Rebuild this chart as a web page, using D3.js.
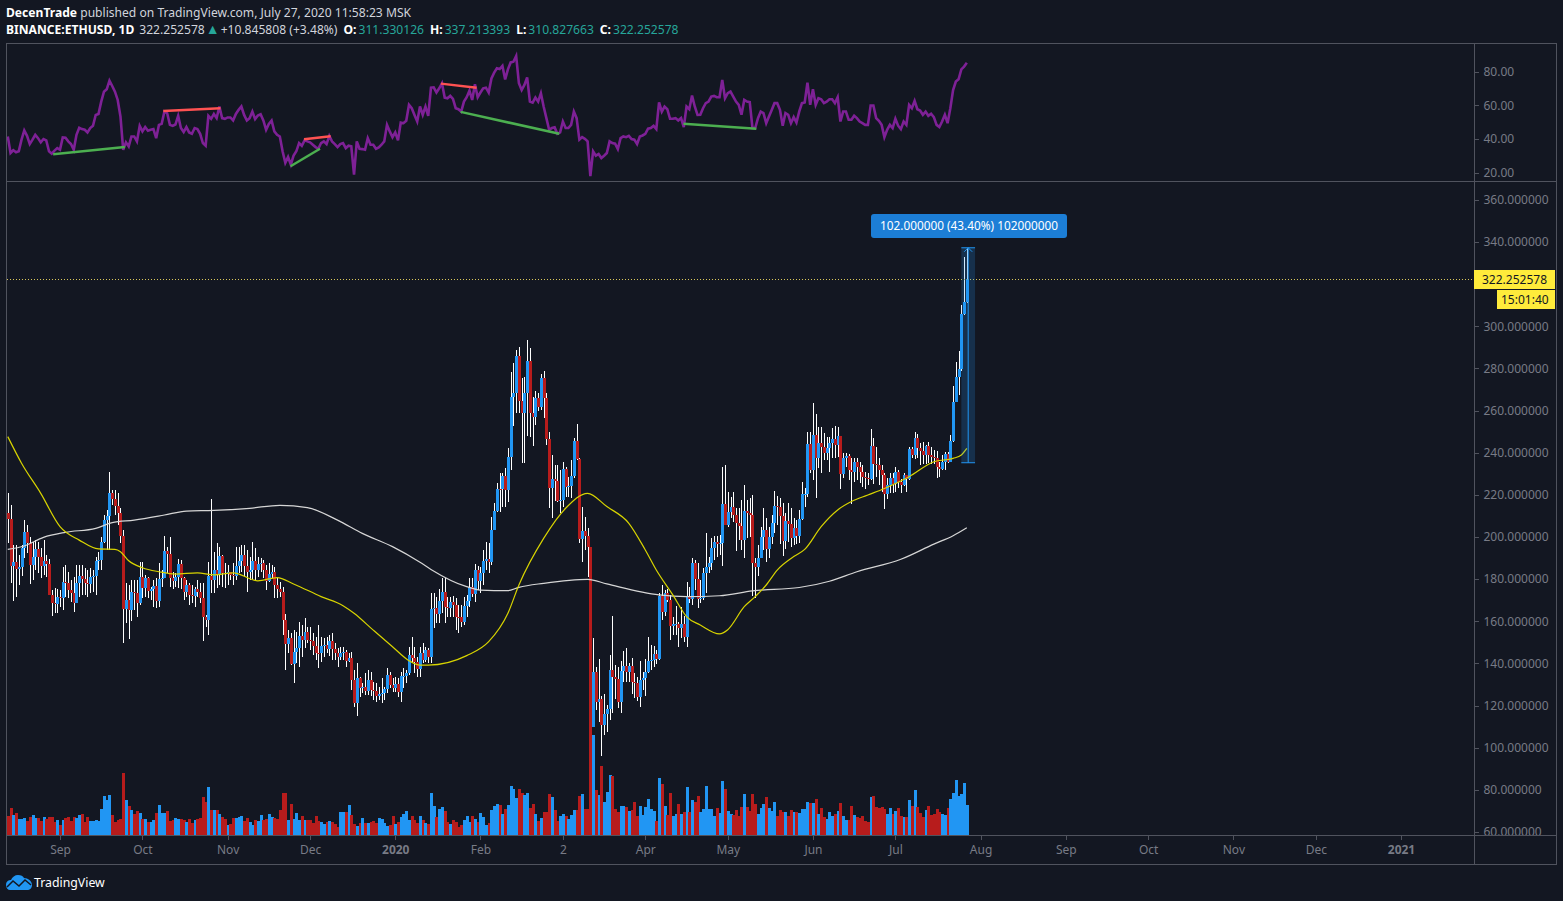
<html>
<head>
<meta charset="utf-8">
<script src="https://d3js.org/d3.v7.min.js" charset="utf-8"></script>
<style>
    html, body { margin: 0; padding: 0; background: #131722; overflow: hidden; }
    text { font-family: "Noto Sans", sans-serif; }
</style>
</head>
<body>
<script>
// Daily ETHUSD bars, first bar is 2019-08-13, one value per day
var firstOpen = 211.2;
var closes = [
    208.3,186.2,188.1,185,185.6,194.7,202.3,197,186.8,190.6,
    194.3,190.6,186.2,188.6,187.2,172.6,168.5,168.2,171.6,171.2,
    178.6,178.3,174.8,173.5,168.8,178,181.5,180,178,177.8,
    180.8,181.6,188.7,189,197.6,208,210,221,217.8,214.7,
    211.2,200.5,166,170.1,165.3,174,173.5,168.8,180.8,176,
    180.5,174.5,175.4,176.7,169.8,180,180.7,193.3,191.9,180.5,
    179.2,180.8,187,180.3,173.9,177.2,172.6,172,175.1,173.9,
    171,162.2,160.6,181.5,179.6,184.3,181.8,191,182.7,182.4,
    183.5,182.1,181.6,186.2,188.7,191.4,186.2,183.4,184.3,188.6,
    184.3,187,187.5,184.3,179.2,182.4,183.5,177.4,175.5,173.9,
    160.6,149.2,151.9,139.7,145.6,147.2,153,151.1,154.9,151.1,
    150.8,148.2,145.1,145,148.2,148.7,147,150.8,146.7,145.1,
    143.2,144.8,145.5,141.3,142.4,132.1,121.3,133.1,128.2,128.6,
    127,132.1,127.4,127,124.5,125.3,125.8,127.7,134.3,129.8,
    128.2,130.2,126.6,134,134,135.3,143.8,142.5,140.8,137.2,
    144.8,141.6,146.4,143.2,165.7,166.1,163.4,169.5,173.9,166.6,
    166.1,169.1,167.6,162.2,161.9,159.6,167.2,169.5,176.1,172.9,
    184.3,179.3,183.1,188.4,189.4,188,203.3,212.5,222.9,222.6,
    228.9,222.3,237.9,266.2,268.1,285.9,264.7,258.7,268.1,283.3,
    258.7,257.1,265.8,261.8,275.4,265.8,246.3,223.2,227.3,226.7,
    217.2,217.5,232.1,223.5,224.2,228.9,245.5,237.1,199.2,202.8,
    200.4,195.1,110,135.9,121.8,122.9,110.8,116,118.2,136.9,
    133.4,132.4,121.8,136.4,138.8,136.1,138.8,131.3,130.8,123.9,
    132.1,132.9,135.9,141.3,141.6,144.4,142.2,172,164.6,173.2,
    170.1,157.7,158.5,158.7,156.6,158.5,152.4,172.1,170.4,187.5,
    179.9,170.4,171.2,182.7,185.6,187.5,194.6,197.6,196.5,197,
    215.6,205.7,212,214,210.4,206.8,205.2,198.6,212.5,211.2,
    210.4,187.5,185.6,189.8,199.8,203.3,194.1,200.1,206.5,214.7,
    214,209.9,198.2,207.6,206.1,199.3,204.4,200.6,208.4,220.2,
    220.5,244.1,231.8,248.4,237.3,244.7,242.8,239.7,242,244.7,
    246.3,243.6,247.9,229.9,237.3,238.4,231.8,231,235.7,233.3,
    231,228.6,228.1,227.3,243.2,234.6,234.1,231.8,229.4,220.4,
    224.6,227.8,225.1,231,226.2,224.6,229.4,227.3,241.6,238.9,
    246.8,242,240.9,238.9,243.2,238.9,238.1,237.3,233.3,232.1,
    235.7,239.2,235.4,245.5,264.2,275.8,279.7,305.7,311.33,322.25
];
var highs = [
    220.7,215.2,196.2,196.2,191.4,196.2,208,205.7,200.1,197.7,
    198.5,197.7,194.6,198.5,191.4,189.4,174.8,175.6,175.1,174.8,
    185.9,186.7,183.5,179.6,181.1,186.7,186.7,186.7,185.1,184.3,
    185.1,184.3,190.6,193,200.1,210.4,212.8,230.8,222.3,222.3,
    220.7,213.6,203.3,178,177.2,179.6,179.6,179.6,188.3,188.3,
    182,181.1,176.4,179.6,180.3,187.5,184.3,200.4,195.4,199.8,
    183.5,182.7,189.4,189,181.1,179.6,178,177.2,176.4,179.6,
    178,178,163,188.3,217.8,193,197,195.4,191.4,187.5,
    186.7,183.1,187.5,195.4,195.4,196.2,196.2,193.8,190.6,197.4,
    194.6,190.6,189.9,189,186.7,187.5,186.7,185.6,180.3,178.8,
    176.4,163.4,155.8,154.3,155.8,155,159.8,158.2,161.4,157.4,
    157.4,154.3,152.7,158.2,152.7,151.9,152.7,153.5,154.3,149.5,
    147.2,148,148,146.4,145.1,145.6,136.9,140,133.7,130.5,
    135.3,136.9,136.1,131.3,130.5,129,132.9,129,137.6,136.1,
    132.9,133.7,132.9,136.1,137.6,136.9,148,152.4,148,143.2,
    148,149.5,148,147.2,173.2,173.2,171.7,175.1,180.4,180.4,
    171.7,171.7,172,170.9,167.7,167.7,171.7,172.5,180.4,180.4,
    187.2,186.2,185.6,193.8,197.4,197,209.3,216.3,225.4,230.2,
    230.2,232.6,242,278.4,282.4,288.7,290,275.3,276,293.5,
    289.5,266.6,269.3,268.1,277.3,278.6,268.1,250,238.9,234.1,
    234.1,231.8,235.7,233.4,228.6,236.5,246.8,253.6,237.5,214.4,
    209.6,204.1,195.1,151.9,138.4,141.9,124.5,125.5,120.2,144,
    162.5,139.2,138.4,141.1,145.9,147.1,140,142.7,135.3,133.7,
    141.1,136.1,142.1,152.3,148.6,148.2,146.3,173.2,177.2,174.8,
    175.1,172.4,162.2,167.4,159.8,166.9,162.5,178.5,176.4,189.9,
    189.1,187.5,179.6,185.1,201.7,190.6,199.3,200.4,200.6,200.9,
    233,234.1,221.5,219.1,221.5,213.6,213.6,217.5,224.7,217.5,
    218.3,219.9,189.8,196,204.9,213.6,208.8,204.9,210.4,221.8,
    219.4,218.3,216,211.2,216,213.6,208.8,208,212.8,226.2,
    223,250,250,263.4,258.3,252,252,249.2,247.6,247.6,
    251.5,252.6,252,247.9,239.7,239.7,239.3,237.3,237.3,237.3,
    235.7,234.1,231,230.2,251,246.8,242.8,237.3,234.1,230.2,
    227.8,230.2,230.2,233,231.8,227.3,230.2,229.4,242.5,242.8,
    250,248.8,244.4,245.2,243.6,245.2,242.5,241.3,240.9,235.7,
    238.9,240.5,240.5,248.4,271.6,283.2,288.3,310,333,337.21
];
var lows = [
    197,178,169.8,171.3,177.2,181.5,189.8,192.2,177.7,179.6,
    184.3,182.7,180.3,181.9,181.1,172.4,162.5,163.7,164.1,166.9,
    165.3,171.6,170.9,169.3,164.5,168.5,171.6,172.4,172.4,171.6,
    173.2,174,172.4,184.3,184.3,197,193.8,193.8,215.2,210.4,
    205.7,197,149.8,159.3,151.4,160.3,165.3,161.8,167.7,170.9,
    171.6,170.9,170.1,166.9,166.1,166.9,176.4,180.3,182.7,176.4,
    175.1,176.4,175.6,175.1,170.1,171.6,167.7,168.5,166.9,171.6,
    168.5,150.8,157.4,153.5,173.2,173.5,175.6,177.2,176.4,175.6,
    177.2,179.6,177.2,179.6,182.7,183.5,181.1,174,179.6,179.6,
    179.6,181.1,183.5,180.3,174.8,178.8,180.3,170.9,170.9,171.6,
    153.5,136.9,144.8,139.2,130.8,140,138.4,143.2,147.2,149.5,
    146.3,144,141.6,138,140.8,143.2,144.8,143.5,141.6,141.6,
    138.4,141.6,141.6,138.4,140.8,127.4,119.4,115.2,124.2,125.8,
    125,125,124.5,122.6,121.8,122.6,121,122.6,125.8,128.2,
    126.6,126.6,123.9,121.8,128.2,130.5,134.5,140,135.3,133.5,
    133.7,140,140.8,140,140,156.6,159,159,163.8,159.3,
    162.2,162.2,161.9,155.9,154.3,157.4,158.2,162.2,166.9,171.7,
    169.3,174.8,173.2,177.2,184.3,182.7,186.7,203.3,212,212,
    214.4,214.4,216.7,231.8,252.6,259,258.7,235.2,235.2,247.9,
    247.6,243.2,253.1,260,260.2,256.3,243.6,213.6,209.2,217.2,
    216.7,211.2,214.4,219.1,219.1,218.3,227.8,236.5,197,188.3,
    193.8,181.2,110,110,117.9,112.3,96,106,107.6,113.1,
    116.3,122.9,118.7,116.3,131.3,131.3,131.3,125.5,123.4,122.1,
    119.4,127.4,124.7,135.3,136.9,138.1,139.7,141.6,160.6,162.5,
    169.3,151.1,153.6,153.5,147.6,151.9,150,148,168.5,167.7,
    174.8,166.1,168.5,170.1,173.2,182.7,184.3,189.1,190.6,191.4,
    186.4,205.7,204.9,208.8,207.2,193.5,198.5,193.8,189.8,199.3,
    200.1,172.1,170.9,181.5,189.8,193.8,188.3,189.8,196.6,201.7,
    205.7,196.6,191.1,194.1,197.8,195.4,196.2,196.6,197,208,
    214.4,219.1,230.2,227,218.6,232.5,230.5,236.5,236.5,231,
    237.3,237.3,238.1,222.8,227.8,233,227,215.6,226.2,227,
    225.4,223.9,222.8,224.6,227,225.1,228.6,224.6,221.5,213.1,
    217.8,220.7,220.7,221.5,223,221,224.2,221.5,227,237.3,
    236.8,237.3,234.1,234.6,234.6,235.2,234.6,234.6,227.8,228.3,
    231.8,231.8,234.9,235.7,245.2,264,267.4,278.9,305.3,310.83
];
var volumes = [
    19,27,20,22,16,16,17,14,18,20,
    17,17,14,18,16,18,18,13,15,10,
    15,17,18,14,18,17,20,21,13,18,
    14,14,15,14,26,39,35,40,20,13,
    15,16,62,35,29,25,21,24,22,16,
    16,13,13,15,22,30,22,22,24,14,
    15,17,16,16,15,13,16,12,15,16,
    17,38,33,48,25,25,25,21,18,16,
    10,11,17,17,18,19,14,17,13,10,
    15,14,20,15,16,21,18,17,16,25,
    42,42,15,31,16,22,15,19,15,15,
    15,12,19,14,13,11,13,14,13,11,
    8,23,23,23,30,20,11,9,12,17,
    12,12,13,14,12,17,16,12,9,10,
    19,11,13,18,21,24,15,19,15,12,
    19,15,12,11,42,29,18,26,28,24,
    13,11,15,13,8,10,15,19,13,19,
    16,13,22,18,10,12,25,29,31,30,
    21,26,30,49,46,37,46,42,40,42,
    27,31,21,14,17,23,23,41,38,25,
    14,19,21,19,16,20,25,25,39,41,
    26,26,112,100,45,40,69,33,43,60,
    59,26,23,29,29,28,24,25,33,19,
    29,20,28,36,26,24,14,57,51,29,
    20,42,19,21,31,21,23,48,23,35,
    33,39,23,26,49,26,26,19,27,22,
    54,46,24,21,20,25,19,28,41,28,
    24,41,31,21,27,31,38,27,24,33,
    19,25,23,23,19,25,23,23,22,26,
    26,33,32,32,36,21,27,18,16,23,
    19,21,24,32,19,15,15,29,20,18,
    17,19,14,13,38,39,28,27,28,26,
    21,27,21,24,27,19,18,18,35,29,
    45,28,22,18,25,29,20,21,26,23,
    21,20,27,36,42,55,39,41,52,30
];
var rsiValues = [
    41.4,31.6,33.2,32,32.6,39.5,45,41.8,36.9,39.5,
    42.4,40.4,37.9,39.9,39.1,32.6,31.2,33,34.5,33.5,
    40.8,40.6,38.5,36.9,33.5,42.4,46.6,45.8,45.4,43.8,
    46.4,47.7,54.2,54.8,62.1,68,69.4,74.6,71.4,68,
    63.1,53.3,33.5,37.9,35.5,41.4,41.4,38.5,47.7,44.4,
    47,44.8,45.4,45.8,40.4,48.3,48.9,56.2,55.2,48.3,
    47.7,48.5,53.7,46.4,44,47,43.8,43,46.4,45.8,
    43,37.5,35.9,53.7,51.9,54.8,52.3,59.2,52.3,51.9,
    52.7,52.7,50.9,54.8,57.2,59.2,54.2,50.9,52.3,56.2,
    51.7,53.9,54.6,50.9,45.4,48.9,50.9,44.4,42.4,41.4,
    32.6,25.7,29.2,24.7,30,32.6,37.5,35.9,39.1,38.5,
    37.9,36.5,35.1,34.1,37.5,38.5,36.9,41.8,38.5,36.9,
    35.1,36.9,37.5,34.5,35.9,35.5,18.7,38.5,34.1,33.9,
    33.5,40.4,36.5,36.5,34.1,34.9,36.5,38.5,48.3,44.4,
    41,43.8,39.1,49.7,49.3,50.7,60.2,58.2,54.2,50.3,
    59.2,54.2,59.2,53.7,70.4,70.6,67.5,70,73,64.5,
    64.1,65.5,63.7,58.2,57.6,56.2,62.1,64.7,68.6,63.1,
    72.4,64.7,67.5,70,70.4,67.5,75.9,79.3,81.9,81.5,
    83.4,75.3,81.3,85.4,85.8,89.2,73,69,72,76.5,
    62.1,61.5,64.5,62.1,67.1,59.2,52.3,45.4,46.4,46.8,
    43,43.8,50.3,46.4,46.4,48.3,56.2,52.3,39.5,41,
    40,38.5,17.8,32.6,30,31,28.6,30,31.6,38.5,
    37.5,37.1,33.9,40.4,41.4,41,41.8,39.9,39.5,36.9,
    41.4,42,43,46,46.4,47.7,45.8,61.7,56.2,59.2,
    57.6,51.9,51.9,52.3,50.9,52.3,47,59.2,57.6,65.7,
    59.2,54.2,54.3,58.2,61.2,62.1,65.1,65.5,64.7,64.7,
    75,64.1,67.1,68.1,65.1,62.1,60.2,54.3,63.1,62.1,
    61.8,46.4,46.4,52.3,56.2,55.3,49.3,53.3,57.2,61.2,
    61.2,57.2,47.8,55.3,54.3,49.3,52.9,49.7,56.2,61.2,
    61.6,73.4,60.2,69.4,60.2,64.1,63.5,61.2,62.1,63.5,
    63.5,61.2,64.7,50.3,56.2,56.2,51.3,51.3,53.7,52.3,
    50.3,49.3,48.3,48.3,59.8,59.8,52.3,50.7,48.3,41,
    45.4,48.3,46.4,51.9,47.8,45.8,50.3,48.3,60.2,58.2,
    62.5,57.6,56.8,54.3,56.2,53.7,54.9,52.9,48.3,47,
    50.3,54.3,49.3,58.2,69,74,75.4,81.3,82.9,85.2
];

var yellowMaBars = [0,5,12,19,26,33,39,41,44,49,55,61,69,75,82,91,98,104,114,122,126,133,140,146,150,153,167,175,182,186,195,203,211,218,226,232,236,242,247,252,259,262,268,272,276,280,286,290,296,302,307,313,319,328,337,344,347,349];
var yellowMaValues = [247.6,235,220.7,204.9,198.5,194.3,194.1,193,188.7,185.4,183.5,182.4,183,182,183,179.2,180.7,177.7,171.7,167.4,163.8,155.8,147.9,141.3,139.2,139.2,143.7,150.3,163.8,177.2,199.3,213.6,220.7,214.4,206.5,193.8,184.3,172.5,162.2,158.2,154,156,166.9,171.7,177.2,184.3,190.7,194.1,204.9,212.8,216.8,219.9,223,228.6,235.7,237.3,238.9,242];
var whiteMaBars = [0,6,13,21,32,38,46,57,65,75,88,99,109,120,129,140,150,154,167,172,182,186,195,211,218,237,247,259,271,288,299,309,325,337,344,349];
var whiteMaValues = [194.1,195.7,199.8,202.2,204.1,206.8,208,210.4,212.3,212.6,213.6,215,213.9,208,201.7,195.4,188,184.6,176.4,174.8,174.5,176.1,178,179.9,177.7,172.5,171.7,172.1,174.4,176,179,183.5,189.4,196.6,200.6,204.4];

// trend lines drawn on the RSI pane: [bar, rsi, bar, rsi]
var greenRsiLines = [[16.5,30.8,42.6,35.1],[102.9,23.7,113.6,34.1],[164.8,56,200.7,43],[245.9,48.9,272.4,46]];
var redRsiLines = [[56.6,56.6,77.4,58.2],[107.8,39.8,117.5,41.6],[157.6,72.8,170.6,70.4]];

// 320 sits under the last price label in the reference, so it is left out
var priceTicks = [60,80,100,120,140,160,180,200,220,240,260,280,300,340,360];
var rsiTicks = [20,40,60,80];
var timeTickDates = ["2019-09-01","2019-10-01","2019-11-01","2019-12-01","2020-01-01","2020-02-01","2020-03-02","2020-04-01","2020-05-01","2020-06-01","2020-07-01","2020-08-01","2020-09-01","2020-10-01","2020-11-01","2020-12-01","2021-01-01"];
var timeTickLabels = ["Sep","Oct","Nov","Dec","2020","Feb","2","Apr","May","Jun","Jul","Aug","Sep","Oct","Nov","Dec","2021"];
var boldLabels = ["2020","2021"];

var lastPrice = 322.252578;
var measureHigh = 337.213393;
var measureLow = 235.213393;
var measureStart = 347;
var measureEnd = 352;

var chartWidth = 1563;
var chartHeight = 901;
var background = "#131722";
var borderColor = "#50535e";
var axisTextColor = "#787b86";
var upColor = "#2196f3";
var downColor = "#b71c1c";
var left = 6.5, right = 1474.5, outerRight = 1556.5;
var top_ = 43.5, paneSplit = 181.5, axisY = 835.5, bottom = 864.5;

var svg = d3.select("body").append("svg")
    .attr("width", chartWidth)
    .attr("height", chartHeight)
    .style("display", "block");

svg.append("rect").attr("width", "100%").attr("height", "100%").attr("fill", background);

var defs = svg.append("defs");
defs.append("clipPath").attr("id", "plotClip").append("rect")
    .attr("x", left + 0.5).attr("y", paneSplit + 0.5)
    .attr("width", right - left - 1).attr("height", axisY - paneSplit - 1);
defs.append("clipPath").attr("id", "priceAxisClip").append("rect")
    .attr("x", right).attr("y", paneSplit)
    .attr("width", outerRight - right).attr("height", axisY - paneSplit);

// scales
var x = d3.scaleUtc()
    .domain([new Date(Date.UTC(2019, 8, 1)), new Date(Date.UTC(2021, 0, 1))])
    .range([60, 1401]);
var y = d3.scaleLinear().domain([60, 360]).range([832, 199.75]);
var rsiY = d3.scaleLinear().domain([20, 80]).range([172.5, 71.5]);
var volumeY = d3.scaleLinear().domain([0, 120]).range([835, 715]);

var firstDay = Date.UTC(2019, 7, 13);
function barX(i) {
    return x(new Date(firstDay + i * 86400000));
}
// bars land on whole pixels so bodies stay 3px with the wick in the middle
function barLeft(d) {
    return Math.round(barX(d.index)) - 1;
}
function wickX(d) {
    return Math.round(barX(d.index)) + 0.5;
}

var bars = closes.map(function(c, i) {
    return {
        index: i,
        open: i === 0 ? firstOpen : closes[i - 1],
        close: c,
        high: highs[i],
        low: lows[i],
        volume: volumes[i]
    };
});
function barColor(d) {
    return d.close >= d.open ? upColor : downColor;
}
var barWidth = 3;

var plot = svg.append("g").attr("clip-path", "url(#plotClip)");

// volume sits at the bottom of the price pane
plot.append("g").selectAll("rect").data(bars).enter().append("rect")
    .attr("x", barLeft)
    .attr("y", function(d) { return volumeY(d.volume); })
    .attr("width", barWidth)
    .attr("height", function(d) { return 835 - volumeY(d.volume); })
    .attr("fill", barColor)
    .attr("shape-rendering", "crispEdges");

// wicks first, bodies go over them
plot.append("g").selectAll("line").data(bars).enter().append("line")
    .attr("x1", wickX)
    .attr("x2", wickX)
    .attr("y1", function(d) { return y(Math.max(d.high, d.open, d.close)); })
    .attr("y2", function(d) { return y(Math.min(d.low, d.open, d.close)); })
    .attr("stroke", "#ffffff")
    .attr("stroke-width", 1)
    .attr("shape-rendering", "crispEdges");

plot.append("g").selectAll("rect").data(bars).enter().append("rect")
    .attr("x", barLeft)
    .attr("y", function(d) { return y(Math.max(d.open, d.close)); })
    .attr("width", barWidth)
    .attr("height", function(d) { return Math.max(1, Math.abs(y(d.open) - y(d.close))); })
    .attr("fill", barColor)
    .attr("shape-rendering", "crispEdges");

// moving averages
var maLine = d3.line()
    .x(function(d) { return barX(d[0]); })
    .y(function(d) { return y(d[1]); })
    .curve(d3.curveMonotoneX);

plot.append("path")
    .attr("d", maLine(d3.zip(whiteMaBars, whiteMaValues)))
    .attr("fill", "none")
    .attr("stroke", "#d6d6d6")
    .attr("stroke-width", 1.2);
plot.append("path")
    .attr("d", maLine(d3.zip(yellowMaBars, yellowMaValues)))
    .attr("fill", "none")
    .attr("stroke", "#d8d400")
    .attr("stroke-width", 1.2);

// last price line
plot.append("line")
    .attr("x1", left).attr("x2", right)
    .attr("y1", y(lastPrice)).attr("y2", y(lastPrice))
    .attr("stroke", "#d9c75a")
    .attr("stroke-width", 1)
    .attr("stroke-dasharray", "1 2")
    .attr("shape-rendering", "crispEdges");

// measure tool
var measure = svg.append("g");
measure.append("rect")
    .attr("x", barX(measureStart))
    .attr("y", y(measureHigh))
    .attr("width", barX(measureEnd) - barX(measureStart))
    .attr("height", y(measureLow) - y(measureHigh))
    .attr("fill", "#2196f3")
    .attr("fill-opacity", 0.2);
var measureMid = (barX(measureStart) + barX(measureEnd)) / 2;
measure.append("line")
    .attr("x1", measureMid).attr("x2", measureMid)
    .attr("y1", y(measureHigh)).attr("y2", y(measureLow))
    .attr("stroke", "#2196f3").attr("stroke-width", 1);
[measureHigh, measureLow].forEach(function(p) {
    measure.append("line")
        .attr("x1", barX(measureStart)).attr("x2", barX(measureEnd))
        .attr("y1", y(p)).attr("y2", y(p))
        .attr("stroke", "#2196f3").attr("stroke-width", 1);
});
measure.append("path")
    .attr("d", "M" + (measureMid - 4) + "," + (y(measureHigh) + 4) + "L" + measureMid + "," + y(measureHigh) + "L" + (measureMid + 4) + "," + (y(measureHigh) + 4))
    .attr("fill", "none").attr("stroke", "#2196f3").attr("stroke-width", 1);

measure.append("rect")
    .attr("x", 871).attr("y", 214)
    .attr("width", 196).attr("height", 24)
    .attr("rx", 3)
    .attr("fill", "#1c7ed6");
measure.append("text")
    .attr("x", 969).attr("y", 230)
    .attr("text-anchor", "middle")
    .attr("font-size", 11.8)
    .attr("fill", "#ffffff")
    .text("102.000000 (43.40%) 102000000");

// RSI pane
var rsiLine = d3.line()
    .x(function(d, i) { return barX(i); })
    .y(function(d) { return rsiY(d); });

svg.append("path")
    .attr("d", rsiLine(rsiValues))
    .attr("fill", "none")
    .attr("stroke", "#7e2196")
    .attr("stroke-width", 2.6)
    .attr("stroke-linejoin", "miter");

function drawRsiLines(lines, color) {
    svg.append("g").selectAll("line").data(lines).enter().append("line")
        .attr("x1", function(d) { return barX(d[0]); })
        .attr("y1", function(d) { return rsiY(d[1]); })
        .attr("x2", function(d) { return barX(d[2]); })
        .attr("y2", function(d) { return rsiY(d[3]); })
        .attr("stroke", color)
        .attr("stroke-width", 2.5);
}
drawRsiLines(greenRsiLines, "#4caf50");
drawRsiLines(redRsiLines, "#ff5252");

// axes
function styleAxis(g) {
    g.select(".domain").remove();
    g.selectAll("line").attr("stroke", borderColor).attr("shape-rendering", "crispEdges");
    g.selectAll("text").attr("fill", axisTextColor).attr("font-size", 12);
}

svg.append("g")
    .attr("clip-path", "url(#priceAxisClip)")
    .append("g")
    .attr("transform", "translate(" + right + ",0)")
    .call(d3.axisRight(y).tickValues(priceTicks).tickSize(4).tickPadding(5).tickFormat(d3.format(".6f")))
    .call(styleAxis);

svg.append("g")
    .attr("transform", "translate(" + right + ",0)")
    .call(d3.axisRight(rsiY).tickValues(rsiTicks).tickSize(4).tickPadding(5).tickFormat(d3.format(".2f")))
    .call(styleAxis);

var timeTicks = timeTickDates.map(function(s) { return new Date(s + "T00:00:00Z"); });
svg.append("g")
    .attr("transform", "translate(0," + axisY + ")")
    .call(d3.axisBottom(x)
        .tickValues(timeTicks)
        .tickSize(4)
        .tickPadding(6)
        .tickFormat(function(d, i) { return timeTickLabels[i]; }))
    .call(styleAxis)
    .selectAll("text")
    .attr("font-weight", function() { return boldLabels.indexOf(this.textContent) >= 0 ? 700 : 400; });

// frame and pane borders
var frame = svg.append("g")
    .attr("stroke", borderColor)
    .attr("fill", "none")
    .attr("shape-rendering", "crispEdges");
frame.append("rect").attr("x", left).attr("y", top_).attr("width", outerRight - left).attr("height", bottom - top_);
frame.append("line").attr("x1", left).attr("x2", outerRight).attr("y1", paneSplit).attr("y2", paneSplit);
frame.append("line").attr("x1", left).attr("x2", outerRight).attr("y1", axisY).attr("y2", axisY);
frame.append("line").attr("x1", right).attr("x2", right).attr("y1", top_).attr("y2", bottom);

// last price and countdown labels
svg.append("rect").attr("x", 1474).attr("y", 270).attr("width", 81).attr("height", 19).attr("fill", "#ffeb3b");
svg.append("text").attr("x", 1482).attr("y", 284).attr("font-size", 12).attr("fill", "#131722").text(d3.format(".6f")(lastPrice));
svg.append("rect").attr("x", 1497).attr("y", 290).attr("width", 58).attr("height", 19).attr("fill", "#ffeb3b");
svg.append("text").attr("x", 1501).attr("y", 304).attr("font-size", 12).attr("fill", "#131722").text("15:01:40");

// header
var header = svg.append("g").attr("font-size", 12.1).attr("fill", "#d1d4dc");
var line1 = header.append("text").attr("x", 6).attr("y", 17);
line1.append("tspan").attr("font-weight", 700).attr("fill", "#ffffff").text("DecenTrade");
line1.append("tspan").text(" published on TradingView.com, July 27, 2020 11:58:23 MSK");

var green = "#26a69a";
var line2 = header.append("text").attr("x", 6).attr("y", 34);
line2.append("tspan").attr("font-weight", 700).attr("fill", "#ffffff").text("BINANCE:ETHUSD, 1D");
line2.append("tspan").attr("dx", 5).text("322.252578");
line2.append("tspan").attr("dx", 1).attr("font-size", 14).attr("fill", green).text("\u25B2");
line2.append("tspan").attr("dx", 1).text("+10.845808 (+3.48%)");
[["O:", "311.330126"], ["H:", "337.213393"], ["L:", "310.827663"], ["C:", "322.252578"]].forEach(function(p) {
    line2.append("tspan").attr("dx", 6).attr("font-weight", 700).attr("fill", "#ffffff").text(p[0]);
    line2.append("tspan").attr("dx", 2).attr("fill", green).text(p[1]);
});

// logo
var logo = svg.append("g");
logo.append("path")
    .attr("d", "M6,885 C6,881 9,880 11,880 C12,877 15,875 18,875 C21,875 23,876 24,878 C28,878 32,881 32,885 C32,888 30,890 27,890 L10,890 C8,890 6,888 6,885 Z")
    .attr("fill", "#2196f3");
logo.append("path")
    .attr("d", "M7,887 L13,881 L19,886 L25,880 L31,885")
    .attr("fill", "none")
    .attr("stroke", background)
    .attr("stroke-width", 1.5);
svg.append("text").attr("x", 34).attr("y", 887).attr("font-size", 12.3).attr("fill", "#ffffff").text("TradingView");
</script>
</body>
</html>
